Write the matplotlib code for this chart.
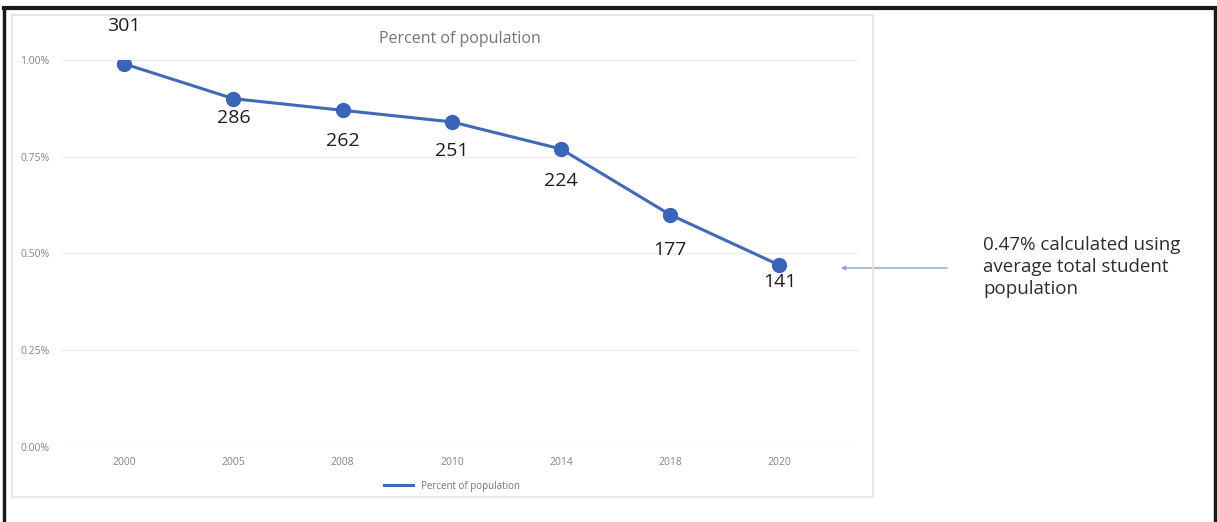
import matplotlib.pyplot as plt
from matplotlib.lines import Line2D
from matplotlib.patches import Rectangle
from matplotlib.ticker import PercentFormatter

plt.rcParams['font.family'] = ['Open Sans', 'DejaVu Sans']

# data
years = ["2000", "2005", "2008", "2010", "2014", "2018", "2020"]
percent = [0.99, 0.90, 0.87, 0.84, 0.77, 0.60, 0.47]
counts = [301, 286, 262, 251, 224, 177, 141]
label_offsets = [27, -14, -22, -21, -23, -25, -12]   # points, + above, - below

x = list(range(len(years)))

fig = plt.figure(figsize=(12.17, 5.22), dpi=100)

# outer black frame and inner light chart frame
fig.add_artist(Line2D([0.003, 0.003], [0, 0.985], transform=fig.transFigure, color="#1a1a1a", lw=2.5))
fig.add_artist(Line2D([0.998, 0.998], [0, 0.985], transform=fig.transFigure, color="#1a1a1a", lw=2.5))
fig.add_artist(Line2D([0.003, 0.998], [0.985, 0.985], transform=fig.transFigure, color="#1a1a1a", lw=3))
fig.add_artist(Rectangle((0.010, 0.047), 0.707, 0.925, transform=fig.transFigure,
                         fill=False, edgecolor="#e3e3e3", lw=1.2))

ax = fig.add_axes([0.051, 0.1437, 0.654, 0.7414])
ax.plot(x, percent, color="#4169b5", lw=2.2, marker="o", markersize=10,
        markerfacecolor="#3a64b8", markeredgecolor="#3a64b8", label="Percent of population")

for xi, yi, c, off in zip(x, percent, counts, label_offsets):
    ax.annotate(str(c), (xi, yi), xytext=(0, off), textcoords="offset points",
                ha="center", va="center", fontsize=14, color="#1e1e1e")

ax.set_ylim(0, 1.0)
ax.set_xlim(-0.57, 6.72)
ax.set_yticks([0, 0.25, 0.5, 0.75, 1.0])
ax.yaxis.set_major_formatter(PercentFormatter(100, decimals=2))
ax.set_xticks(x)
ax.set_xticklabels(years)
ax.tick_params(length=0, labelsize=7.5, colors="#858585")
ax.tick_params(axis="x", pad=7)
ax.tick_params(axis="y", pad=9)
ax.grid(axis="y", color="#ececec", lw=1)
ax.set_axisbelow(True)
for s in ax.spines.values():
    s.set_visible(False)

ax.set_title("Percent of population", fontsize=11.5, color="#757575", pad=12)
ax.legend(loc="upper center", bbox_to_anchor=(0.49, -0.065), frameon=False,
          fontsize=7, labelcolor="#757575", handlelength=3, markerscale=0)

# side note with arrow
fig.text(0.808, 0.4885, "0.47% calculated using\naverage total student\npopulation",
         fontsize=13.5, color="#2e2e2e", va="center", ha="left", linespacing=1.27)
ax.annotate("", xy=(0.6886, 0.4866), xycoords="figure fraction",
            xytext=(0.7806, 0.4866), textcoords="figure fraction",
            arrowprops=dict(arrowstyle="-|>", color="#8fa3c8", lw=1, mutation_scale=6))

fig.savefig("out.png", dpi=100)
